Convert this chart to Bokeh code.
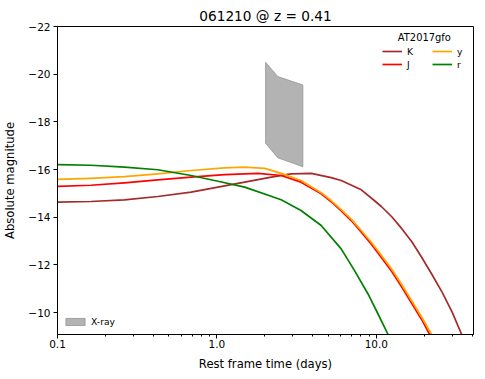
from bokeh.plotting import figure
from bokeh.models import Range1d, FixedTicker, Legend, LegendItem, Label
from bokeh.embed import file_html
from bokeh.resources import INLINE

title_text = "061210 @ z = 0.41"
x_label = "Rest frame time (days)"
y_label = "Absolute magnitude"

# AT2017gfo light curves (rest-frame days, absolute magnitude)
t_K = [0.1, 0.162, 0.263, 0.426, 0.689, 1.015, 1.494, 2.195, 2.92, 3.91, 5.21, 6.02, 8.05, 9.71,
       10.75, 12.5, 14.4, 16.7, 19.2, 22.2, 25.9, 30.0, 34.3]
m_K = [-14.63, -14.66, -14.73, -14.87, -15.05, -15.26, -15.47, -15.68, -15.82, -15.84, -15.66, -15.54, -15.15, -14.70,
       -14.45, -14.02, -13.53, -12.97, -12.33, -11.63, -10.85, -10.00, -9.08]

t_J = [0.1, 0.162, 0.263, 0.426, 0.689, 1.118, 1.811, 2.53, 3.37, 4.51, 5.21, 6.02, 6.98, 8.05,
       9.33, 10.75, 12.5, 14.4, 17.3, 19.5, 21.6]
m_J = [-15.29, -15.34, -15.44, -15.57, -15.68, -15.79, -15.84, -15.75, -15.47, -14.98, -14.65, -14.27, -13.85, -13.37,
       -12.86, -12.31, -11.72, -11.08, -10.21, -9.64, -9.08]

t_y = [0.1, 0.162, 0.263, 0.426, 0.689, 1.118, 1.494, 1.995, 2.53, 3.37, 4.51, 5.21, 6.02, 6.98, 8.05,
       9.33, 10.75, 12.5, 14.4, 17.3, 19.5, 22.2]
m_y = [-15.59, -15.63, -15.70, -15.82, -15.96, -16.07, -16.10, -16.05, -15.84, -15.54, -15.03, -14.70, -14.32, -13.91, -13.44,
       -12.94, -12.40, -11.82, -11.19, -10.32, -9.75, -9.08]

t_r = [0.1, 0.162, 0.263, 0.426, 0.689, 1.015, 1.494, 2.53, 3.37, 4.51, 6.02, 7.30, 8.87, 10.25, 11.85]
m_r = [-16.21, -16.18, -16.10, -15.99, -15.75, -15.51, -15.26, -14.73, -14.28, -13.65, -12.67, -11.76, -10.78, -9.94, -9.08]

# X-ray region polygon
xray_t = [2.02, 2.41, 3.46, 3.46, 2.41, 2.02]
xray_m = [-20.50, -19.90, -19.55, -16.12, -16.49, -17.10]

bands = ["K", "J", "y", "r"]
colors = ["brown", "red", "orange", "green"]
legend_title = "AT2017gfo"

y_ticks = [-22, -20, -18, -16, -14, -12, -10]
x_ticks = [0.1, 1.0, 10.0]
x_tick_labels = ["0.1", "1.0", "10.0"]

FONT = "DejaVu Sans"

p = figure(width=485, height=379, x_axis_type="log",
           x_range=Range1d(0.1, 40.7), y_range=Range1d(-9.08, -22),
           output_backend="svg", toolbar_location=None,
           min_border_left=57, min_border_right=12, min_border_top=26, min_border_bottom=45)

p.title.text = title_text
p.title.align = "center"
p.title.text_font = FONT
p.title.text_font_size = "13.7px"
p.title.text_font_style = "normal"
p.title.text_color = "black"
p.title.standoff = 6

p.grid.visible = False
p.outline_line_color = "black"
p.outline_line_width = 1

for ax in (p.xaxis[0], p.yaxis[0]):
    ax.axis_line_color = "black"
    ax.major_tick_line_color = "black"
    ax.minor_tick_line_color = "black"
    ax.major_tick_in = 0
    ax.major_tick_out = 4
    ax.minor_tick_in = 0
    ax.major_label_text_font = FONT
    ax.major_label_text_font_size = "10.5px"
    ax.major_label_text_color = "black"
    ax.axis_label_text_font = FONT
    ax.axis_label_text_font_size = "11.6px"
    ax.axis_label_text_font_style = "normal"
    ax.axis_label_text_color = "black"

minor = [m * 10 ** e for e in (-1, 0, 1) for m in range(2, 10)]
p.xaxis.ticker = FixedTicker(ticks=x_ticks, minor_ticks=minor)
p.xaxis.major_label_overrides = {v: s for v, s in zip(x_ticks, x_tick_labels)}
p.xaxis.minor_tick_out = 2
p.xaxis.major_label_standoff = 1
p.xaxis.axis_label = x_label
p.xaxis.axis_label_standoff = 6

p.yaxis.ticker = FixedTicker(ticks=y_ticks, minor_ticks=[])
p.yaxis.major_label_overrides = {v: "\u2212" + str(abs(v)) for v in y_ticks}
p.yaxis.minor_tick_out = 0
p.yaxis.major_label_standoff = 3
p.yaxis.axis_label = y_label
p.yaxis.axis_label_standoff = 8

xr = p.patch(xray_t, xray_m, fill_color="gray", fill_alpha=0.6,
             line_color="gray", line_alpha=0.6, line_width=1)

renderers = []
for t, m, c in zip([t_K, t_J, t_y, t_r], [m_K, m_J, m_y, m_r], colors):
    renderers.append(p.line(t, m, line_color=c, line_width=1.7, line_join="round"))

items = [LegendItem(label=b, renderers=[r]) for b, r in zip(bands, renderers)]
leg = Legend(items=items, ncols=2, location=(325, 264), padding=0, spacing=1,
             label_width=24, glyph_width=20, glyph_height=12, label_standoff=5,
             label_text_font=FONT, label_text_font_size="9.2px", label_text_color="black",
             border_line_color=None, background_fill_alpha=0, margin=0)
p.add_layout(leg, "center")

title_lbl = Label(x=20, y=-21.54, text=legend_title, text_align="center",
                  text_baseline="middle", text_font=FONT, text_font_size="9.9px",
                  text_color="black")
p.add_layout(title_lbl)

leg2 = Legend(items=[LegendItem(label="X-ray", renderers=[xr])], location=(6, 7),
              padding=0, spacing=0, glyph_width=24, glyph_height=9, label_standoff=4,
              label_text_font=FONT, label_text_font_size="9.2px", label_text_color="black",
              border_line_color=None, background_fill_alpha=0, margin=0)
p.add_layout(leg2, "center")

open("out.html", "w").write(file_html(p, INLINE))
